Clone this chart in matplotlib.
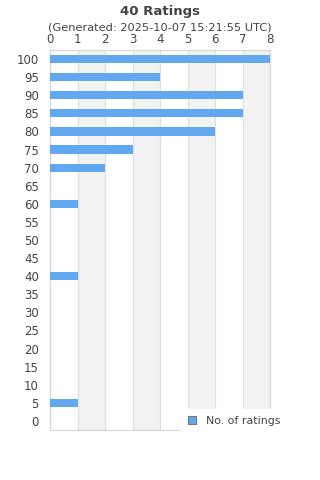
import matplotlib.pyplot as plt
from matplotlib.patches import Patch

# ratings (category) and number of ratings
ratings = [100, 95, 90, 85, 80, 75, 70, 65, 60, 55, 50, 45, 40, 35, 30, 25, 20, 15, 10, 5, 0]
counts = [8, 4, 7, 7, 6, 3, 2, 0, 1, 0, 0, 0, 1, 0, 0, 0, 0, 0, 0, 1, 0]
x_ticks = [0, 1, 2, 3, 4, 5, 6, 7, 8]

BAR = "#62a8f0"
TXT = "#444444"
GRID = "#e0e0e0"

fig = plt.figure(figsize=(3.2, 4.8), dpi=100)
ax = fig.add_axes([50 / 320, 1 - 430 / 480, 220 / 320, 380 / 480])

pos = list(range(len(ratings)))
# alternating bands
for k in range(1, 8, 2):
    ax.axvspan(k, k + 1, color="#f2f2f2", zorder=0, lw=0)
for t in x_ticks:
    ax.axvline(t, color=GRID, lw=0.9, zorder=1)

ax.barh(pos, counts, height=0.45, color=BAR, zorder=3)

ax.set_xlim(0, 8)
ax.set_ylim(len(ratings) - 0.5, -0.5)
ax.set_yticks(pos)
ax.set_yticklabels([str(r) for r in ratings])
ax.set_xticks(x_ticks)
ax.xaxis.tick_top()
ax.tick_params(axis="both", length=0, labelsize=8.5, colors=TXT)
ax.tick_params(axis="y", pad=8)
ax.tick_params(axis="x", pad=3)
for s in ax.spines.values():
    s.set_color("#d8d8d8")
    s.set_linewidth(0.9)

fig.text(0.5, 1 - 11 / 480, "40 Ratings", ha="center", va="center",
         fontsize=9.5, fontweight="bold", color=TXT)
fig.text(0.5, 1 - 28 / 480, "(Generated: 2025-10-07 15:21:55 UTC)", ha="center",
         va="center", fontsize=8.2, color=TXT)

handle = Patch(facecolor=BAR, edgecolor="#777777", linewidth=0.8)
leg = fig.legend([handle], ["No. of ratings"], loc="center left",
                 bbox_to_anchor=(176 / 320, 1 - 421 / 480), frameon=True,
                 fontsize=7.9, handlelength=0.75, handleheight=0.75,
                 handletextpad=0.9, borderpad=0.6, labelcolor=TXT)
leg.get_frame().set_facecolor("white")
leg.get_frame().set_edgecolor("white")
leg.get_frame().set_alpha(1)
leg.set_zorder(10)

fig.savefig("out.png", dpi=100)
